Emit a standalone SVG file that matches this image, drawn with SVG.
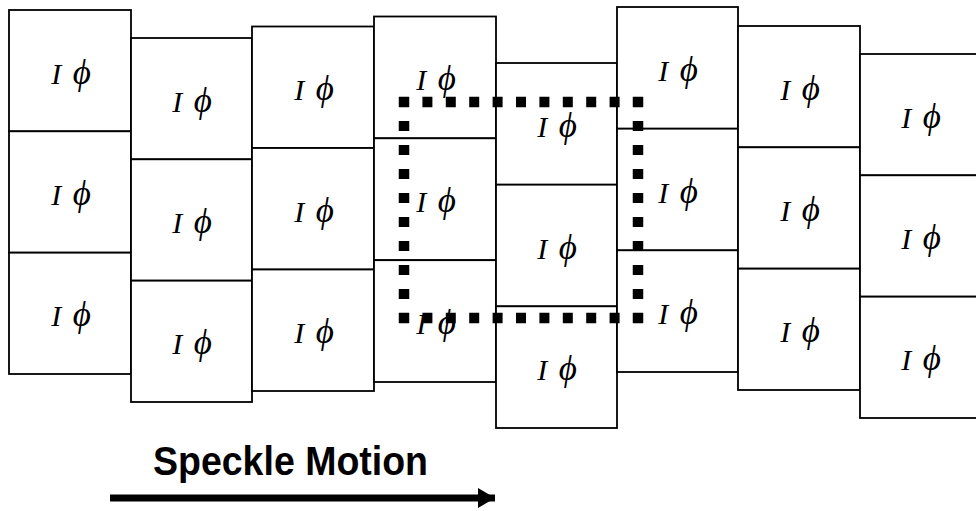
<svg xmlns="http://www.w3.org/2000/svg" width="976" height="511" viewBox="0 0 976 511">
<style>
.cell rect{fill:#fff;stroke:#000;stroke-width:1.8}
.cell text{font-family:"Liberation Serif","DejaVu Serif",serif;font-style:italic;font-size:30px;fill:#000;text-anchor:middle;word-spacing:4px}
.cell tspan{font-size:35px}
.dot{stroke:#000;stroke-width:10.5;fill:none}
.title{font-family:"Liberation Sans",Arial,sans-serif;font-weight:bold;font-size:40px;fill:#000}
</style>
<defs>
<marker id="ah" markerUnits="userSpaceOnUse" markerWidth="18" markerHeight="20" refX="17" refY="10" orient="auto">
<path d="M0,0 L17,10 L0,20 Z" fill="#000"/>
</marker>
</defs>
<rect width="976" height="511" fill="#fff"/>
<g id="col1" class="cell">
<rect x="9" y="10" width="122" height="121.3"/><rect x="9" y="131.3" width="122" height="121.3"/><rect x="9" y="252.7" width="122" height="121.3"/>
<text x="71" y="83.7">I <tspan>ϕ</tspan></text><text x="71" y="205">I <tspan>ϕ</tspan></text><text x="71" y="326.3">I <tspan>ϕ</tspan></text>
</g>
<g id="col2" class="cell">
<rect x="131" y="38" width="121" height="121.3"/><rect x="131" y="159.3" width="121" height="121.3"/><rect x="131" y="280.7" width="121" height="121.3"/>
<text x="192" y="111.7">I <tspan>ϕ</tspan></text><text x="192" y="233">I <tspan>ϕ</tspan></text><text x="192" y="354.3">I <tspan>ϕ</tspan></text>
</g>
<g id="col3" class="cell">
<rect x="252" y="26.5" width="122" height="121.5"/><rect x="252" y="148" width="122" height="121.5"/><rect x="252" y="269.5" width="122" height="121.5"/>
<text x="314" y="100.3">I <tspan>ϕ</tspan></text><text x="314" y="221.8">I <tspan>ϕ</tspan></text><text x="314" y="343.3">I <tspan>ϕ</tspan></text>
</g>
<g id="col4" class="cell">
<rect x="374" y="16.5" width="122" height="121.8"/><rect x="374" y="138.3" width="122" height="121.8"/><rect x="374" y="260.2" width="122" height="121.8"/>
<text x="436" y="90.4">I <tspan>ϕ</tspan></text><text x="436" y="212.2">I <tspan>ϕ</tspan></text><text x="436" y="334.1">I <tspan>ϕ</tspan></text>
</g>
<g id="col5" class="cell">
<rect x="496" y="63" width="121" height="121.7"/><rect x="496" y="184.7" width="121" height="121.7"/><rect x="496" y="306.3" width="121" height="121.7"/>
<text x="557" y="136.8">I <tspan>ϕ</tspan></text><text x="557" y="258.5">I <tspan>ϕ</tspan></text><text x="557" y="380.2">I <tspan>ϕ</tspan></text>
</g>
<g id="col6" class="cell">
<rect x="617" y="7" width="121" height="121.7"/><rect x="617" y="128.7" width="121" height="121.7"/><rect x="617" y="250.3" width="121" height="121.7"/>
<text x="678" y="80.8">I <tspan>ϕ</tspan></text><text x="678" y="202.5">I <tspan>ϕ</tspan></text><text x="678" y="324.2">I <tspan>ϕ</tspan></text>
</g>
<g id="col7" class="cell">
<rect x="738" y="26" width="122" height="121.3"/><rect x="738" y="147.3" width="122" height="121.3"/><rect x="738" y="268.7" width="122" height="121.3"/>
<text x="800" y="99.7">I <tspan>ϕ</tspan></text><text x="800" y="221">I <tspan>ϕ</tspan></text><text x="800" y="342.3">I <tspan>ϕ</tspan></text>
</g>
<g id="col8" class="cell">
<rect x="860" y="54" width="122" height="121.3"/><rect x="860" y="175.3" width="122" height="121.3"/><rect x="860" y="296.7" width="122" height="121.3"/>
<text x="921" y="127.7">I <tspan>ϕ</tspan></text><text x="921" y="249">I <tspan>ϕ</tspan></text><text x="921" y="370.3">I <tspan>ϕ</tspan></text>
</g>
<g id="window">
<line class="dot" x1="399" y1="102" x2="643" y2="102" stroke-dasharray="10 13.4"/>
<line class="dot" x1="399" y1="318" x2="643" y2="318" stroke-dasharray="10 13.4"/>
<line class="dot" x1="404" y1="97" x2="404" y2="323" stroke-dasharray="10 14"/>
<line class="dot" x1="638" y1="97" x2="638" y2="323" stroke-dasharray="10 14"/>
</g>
<g id="label">
<text class="title" x="153" y="475" textLength="275" lengthAdjust="spacingAndGlyphs">Speckle Motion</text>
</g>
<g id="connectors">
<line x1="110" y1="498" x2="495" y2="498" stroke="#000" stroke-width="7" marker-end="url(#ah)"/>
</g>
</svg>
